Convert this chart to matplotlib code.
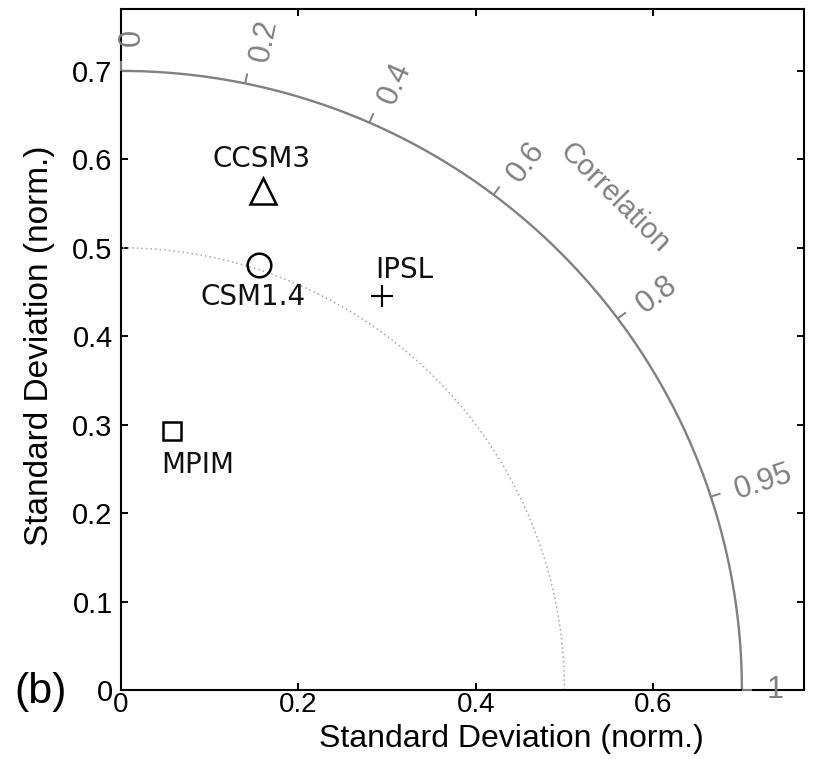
import numpy as np
import matplotlib
matplotlib.use("Agg")
import matplotlib.pyplot as plt

# ---- data ----
models = ["CCSM3", "CSM1.4", "IPSL", "MPIM"]
std_x = [0.160, 0.156, 0.294, 0.058]
std_y = [0.564, 0.480, 0.445, 0.293]
markers = ["^", "o", "+", "s"]
marker_sizes = [19, 17, 16.5, 13.5]
label_offsets = [(-0.7, 23), (-4.3, -23), (16, 19), (18, -24.5)]

ref_std = 0.7
inner_std = 0.5
corr_ticks = [0, 0.2, 0.4, 0.6, 0.8, 0.95, 1]
corr_labels = ["0", "0.2", "0.4", "0.6", "0.8", "0.95", "1"]
axis_ticks = [0, 0.1, 0.2, 0.3, 0.4, 0.5, 0.6, 0.7]
xtick_vals = [0, 0.2, 0.4, 0.6]
lim = 0.77

plt.rcParams['font.family'] = ['Liberation Sans', 'DejaVu Sans']

W, H = 813, 759
fig = plt.figure(figsize=(W / 100, H / 100), dpi=100)
ax = fig.add_axes([121 / W, (H - 690) / H, 683 / W, 681 / H])
ax.set_xlim(0, lim)
ax.set_ylim(0, lim)

grey = "#808080"
th = np.linspace(0, np.pi / 2, 400)
ax.plot(ref_std * np.cos(th), ref_std * np.sin(th), color=grey, lw=1.7, zorder=2)
ax.plot(inner_std * np.cos(th), inner_std * np.sin(th), color="#a8a8a8", lw=1.1,
        ls=(0, (1, 2)), zorder=2)

for c, lab in zip(corr_ticks, corr_labels):
    a = np.arccos(c)
    r0, r1 = ref_std, ref_std + 0.0115
    ax.plot([r0 * np.cos(a), r1 * np.cos(a)], [r0 * np.sin(a), r1 * np.sin(a)],
            color=grey, lw=1.4, zorder=3, clip_on=False, solid_capstyle='butt')
    rl = 0.728
    ap = a * (1 - 0.0108)
    ax.text(rl * np.cos(ap), rl * np.sin(ap), lab, rotation=np.degrees(a),
            rotation_mode='anchor', ha='left', va='center', color=grey,
            fontsize=22, zorder=3)

ac = np.radians(45)
ax.text(0.787 * np.cos(ac), 0.787 * np.sin(ac), "Correlation", rotation=-45,
        rotation_mode='anchor', ha='center', va='center', color=grey, fontsize=21)

for name, x, y, m, ms, off in zip(models, std_x, std_y, markers, marker_sizes, label_offsets):
    if m == "+":
        ax.plot(x, y, marker=m, ms=ms, color='black', mew=1.5, ls='none', zorder=4)
    else:
        ax.plot(x, y, marker=m, ms=ms, mfc='none', mec='black', mew=1.8, ls='none', zorder=4)
    ax.annotate(name, (x, y), xytext=off, textcoords='offset points', ha='center',
                va='center', fontsize=20, family='DejaVu Sans', color='#111111')

ax.set_xticks(xtick_vals)
ax.set_xticklabels(["0", "0.2", "0.4", "0.6"])
ax.set_yticks(axis_ticks)
ax.set_yticklabels(["0", "0.1", "0.2", "0.3", "0.4", "0.5", "0.6", "0.7"])
ax.tick_params(direction='in', length=5, width=1.4, top=True, right=True,
               labelsize=21, pad=6)
ax.tick_params(axis='x', pad=1.5, labelsize=20)
for s in ax.spines.values():
    s.set_linewidth(1.5)

ax.set_xlabel("Standard Deviation (norm.)", fontsize=23)
ax.xaxis.set_label_coords((511 - 121) / 683, -(724 - 690) / 681)
ax.set_ylabel("Standard Deviation (norm.)", fontsize=24)
ax.yaxis.set_label_coords(-0.097, 0.505)

fig.text(14 / W, (H - 703) / H, "(b)", fontsize=31, ha='left', va='baseline')

fig.savefig("out.png", dpi=100)
